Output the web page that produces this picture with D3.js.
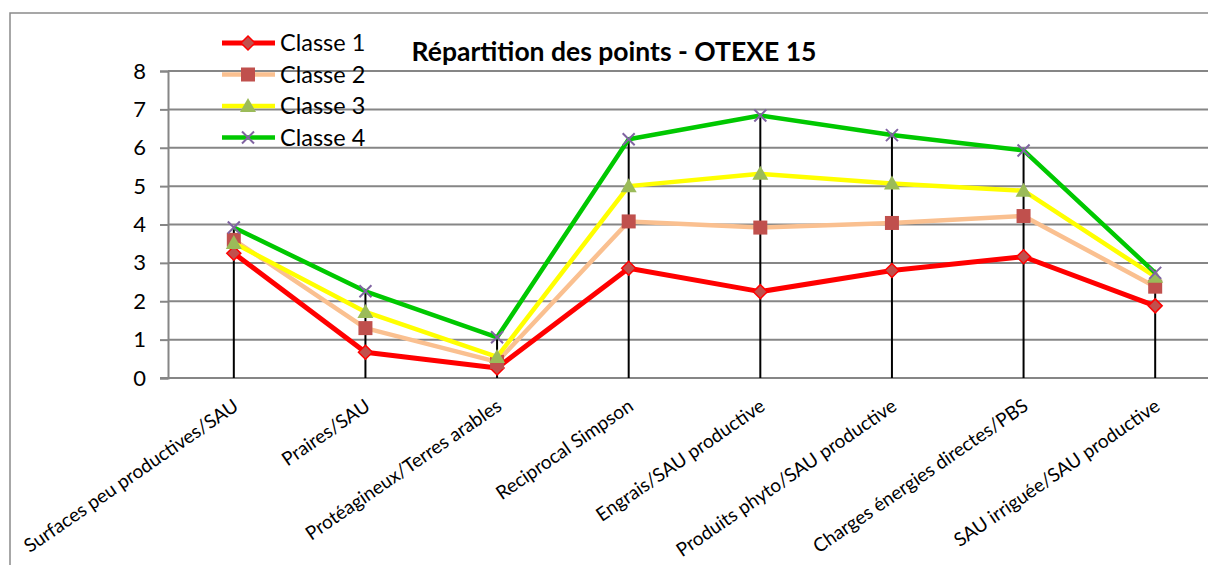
<!DOCTYPE html>
<html>
<head>
<meta charset="utf-8">
<script src="https://cdn.jsdelivr.net/npm/d3@7/dist/d3.min.js"></script>
<style>
  html, body { margin: 0; padding: 0; background: #fff; }
  svg text { font-family: Lato, "Open Sans", sans-serif; fill: #000; }
</style>
</head>
<body>
<svg id="chart" width="1208" height="565"></svg>
<script>
// categories (x axis) and values
var categories = [
    'Surfaces peu productives/SAU',
    'Praires/SAU',
    'Protéagineux/Terres arables',
    'Reciprocal Simpson',
    'Engrais/SAU productive',
    'Produits phyto/SAU productive',
    'Charges énergies directes/PBS',
    'SAU irriguée/SAU productive'
];
var classe1 = [3.25, 0.67, 0.26, 2.86, 2.25, 2.80, 3.16, 1.88];
var classe2 = [3.60, 1.30, 0.42, 4.08, 3.92, 4.04, 4.22, 2.38];
var classe3 = [3.52, 1.72, 0.55, 5.00, 5.32, 5.07, 4.88, 2.64];
var classe4 = [3.92, 2.26, 1.06, 6.22, 6.84, 6.33, 5.93, 2.74];
var seriesNames = ['Classe 1', 'Classe 2', 'Classe 3', 'Classe 4'];
var yTicks = [0, 1, 2, 3, 4, 5, 6, 7, 8];
var title = 'Répartition des points - OTEXE 15';

var styles = [
    {line: '#ff0000', width: 5,   marker: 'diamond',  fill: '#c0504d', stroke: '#ff0000'},
    {line: '#fac090', width: 4.5, marker: 'square',   fill: '#c0504d', stroke: '#c0504d'},
    {line: '#ffff00', width: 4.5, marker: 'triangle', fill: '#9bbb59', stroke: '#9bbb59'},
    {line: '#00c800', width: 4.5, marker: 'cross',    fill: 'none',    stroke: '#8064a2'}
];

var series = [classe1, classe2, classe3, classe4].map(function(values, i) {
    return {name: seriesNames[i], values: values, style: styles[i]};
});

var margin = {top: 71, left: 168, bottom: 187},
    plotW = 1053,
    plotH = 565 - margin.top - margin.bottom;

var svg = d3.select('#chart');

// chart frame (runs off the right edge like the original)
svg.append('rect')
    .attr('x', 10).attr('y', 13)
    .attr('width', 1230).attr('height', 600)
    .attr('fill', 'none').attr('stroke', '#8a8a8a').attr('stroke-width', 1.5);

var x = d3.scaleBand().domain(categories).range([0, plotW]);
var y = d3.scaleLinear().domain([0, 8]).range([plotH, 0]);
var cx = function(c) { return x(c) + x.bandwidth() / 2; };

var g = svg.append('g').attr('transform', 'translate(' + margin.left + ',' + margin.top + ')');

// horizontal gridlines
g.append('g').selectAll('line').data(yTicks).join('line')
    .attr('x1', 0).attr('x2', plotW + 20)
    .attr('y1', function(d) { return y(d); })
    .attr('y2', function(d) { return y(d); })
    .attr('stroke', '#868686').attr('stroke-width', 2);

// y axis
var yAxis = g.append('g').call(d3.axisLeft(y).tickValues(yTicks).tickSize(8).tickPadding(14));
yAxis.select('.domain').attr('stroke', '#868686').attr('stroke-width', 2);
yAxis.selectAll('.tick line').attr('stroke', '#868686').attr('stroke-width', 2);
yAxis.selectAll('.tick text')
    .style('font-family', 'Lato, sans-serif').style('font-size', '22px').attr('fill', '#000');

// x axis line and rotated category labels (end of text sits under the category)
g.append('line')
    .attr('x1', -8).attr('x2', plotW + 20)
    .attr('y1', plotH).attr('y2', plotH)
    .attr('stroke', '#868686').attr('stroke-width', 2);

g.append('g').selectAll('text').data(categories).join('text')
    .attr('text-anchor', 'end')
    .attr('font-size', '19px')
    .attr('transform', function(d) {
        return 'translate(' + (cx(d) + 6) + ',' + (plotH + 31) + ') rotate(-34.5)';
    })
    .text(function(d) { return d; });

// drop lines from the highest point of each category
g.append('g').selectAll('line').data(categories).join('line')
    .attr('x1', cx).attr('x2', cx)
    .attr('y1', function(d, i) { return y(d3.max(series, function(s) { return s.values[i]; })); })
    .attr('y2', plotH)
    .attr('stroke', '#000').attr('stroke-width', 2);

function drawMarker(sel, st) {
    if (st.marker === 'diamond') {
        sel.append('path').attr('d', 'M0,-7L7,0L0,7L-7,0Z')
            .attr('fill', st.fill).attr('stroke', st.stroke).attr('stroke-width', 1.5);
    } else if (st.marker === 'square') {
        sel.append('rect').attr('x', -7).attr('y', -7).attr('width', 14).attr('height', 14)
            .attr('fill', st.fill);
    } else if (st.marker === 'triangle') {
        sel.append('path').attr('d', 'M0,-8L8,6L-8,6Z').attr('fill', st.fill);
    } else {
        sel.append('path').attr('d', 'M-6,-6L6,6M-6,6L6,-6')
            .attr('stroke', st.stroke).attr('stroke-width', 2).attr('fill', 'none');
    }
}

var line = d3.line()
    .x(function(d, i) { return cx(categories[i]); })
    .y(function(d) { return y(d); });

series.forEach(function(s) {
    var sg = g.append('g').attr('class', 'series');
    sg.append('path').datum(s.values)
        .attr('d', line)
        .attr('fill', 'none')
        .attr('stroke', s.style.line)
        .attr('stroke-width', s.style.width)
        .attr('stroke-linejoin', 'round');
    sg.selectAll('g.pt').data(s.values).join('g')
        .attr('class', 'pt')
        .attr('transform', function(d, i) { return 'translate(' + cx(categories[i]) + ',' + y(d) + ')'; })
        .each(function() { drawMarker(d3.select(this), s.style); });
});

// title
svg.append('text')
    .attr('x', 614).attr('y', 61)
    .attr('text-anchor', 'middle')
    .attr('font-weight', 'bold')
    .attr('font-size', '26.5px')
    .text(title);

// legend
var legend = svg.append('g').attr('transform', 'translate(222,43)');
var rows = legend.selectAll('g').data(series).join('g')
    .attr('transform', function(d, i) { return 'translate(0,' + (i * 31.5) + ')'; });
rows.append('line')
    .attr('x1', 0).attr('x2', 53)
    .attr('stroke', function(d) { return d.style.line; })
    .attr('stroke-width', function(d) { return d.style.width; });
rows.append('g').attr('transform', 'translate(26,0)')
    .each(function(d) { drawMarker(d3.select(this), d.style); });
rows.append('text')
    .attr('x', 58).attr('dy', '0.35em')
    .attr('font-size', '23.5px')
    .text(function(d) { return d.name; });
</script>
</body>
</html>
